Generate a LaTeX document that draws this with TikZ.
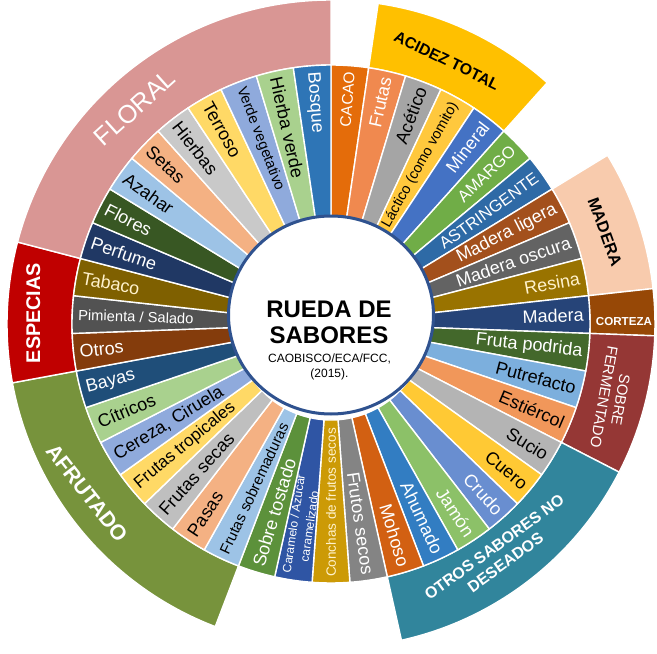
\documentclass[tikz,border=0pt]{standalone}
\usepackage{fontspec}
\setmainfont{Liberation Sans}
\usepackage{xcolor}
\usetikzlibrary{shapes.geometric}
\definecolor{cRing}{HTML}{2F528F}
\definecolor{cCream}{HTML}{FFF2CC}
\definecolor{cFloral}{HTML}{D99694}
\definecolor{cAcidez}{HTML}{FFC000}
\definecolor{cMadera}{HTML}{F8CBAD}
\definecolor{cCorteza}{HTML}{974806}
\definecolor{cFermento}{HTML}{953735}
\definecolor{cOtros}{HTML}{31859C}
\definecolor{cAfrutado}{HTML}{77933C}
\definecolor{cEspecias}{HTML}{C00000}
\newcommand{\fsz}[1]{\fontsize{#1}{#1}\selectfont}
\tikzset{
  wedge/.style={draw=white,line width=1.4pt,line join=round},
  seglbl/.style={inner sep=2pt,align=center},
  grp/.style={inner sep=0pt,align=center,text=#1},
  grp/.default=white,
}

\begin{document}
\begin{tikzpicture}[
    hub/.style={ellipse,draw=cRing,fill=white,line width=3pt,minimum width=205pt,minimum height=198pt},
    ttl/.style={font=\bfseries\fsz{24},anchor=base},
    cite/.style={font=\fsz{12},anchor=base}]
  \useasboundingbox (-331pt,-330pt) rectangle (326pt,324pt);
  \pgfmathsetmacro{\segw}{360/43}
  \foreach \a/\b/\col in {1/5/cAcidez,7/10/cMadera,10/11/cCorteza,11/14/cFermento,14/20/cOtros,24/31/cAfrutado,31/34/cEspecias,34/43/cFloral}{
    \pgfmathsetmacro{\aa}{90-\a*\segw}
    \pgfmathsetmacro{\ab}{90-\b*\segw}
    \draw[wedge,fill=\col] (\aa:259pt) arc[start angle=\aa,end angle=\ab,radius=259pt] -- (\ab:324pt) arc[start angle=\ab,end angle=\aa,radius=324pt] -- cycle;
  }
  \foreach \i/\col/\tc/\f/\txt in {
    1/E46C0A/white/15.5/CACAO,
    2/F0894F/white/18/Frutas,
    3/A5A5A5/black/18/Acético,
    4/FFC83D/black/14.4/Láctico (como vomito),
    5/4472C4/white/18/Mineral,
    6/70AD47/white/16.5/AMARGO,
    7/2E6AA6/white/16.5/ASTRINGENTE,
    8/A3501C/white/18/Madera ligera,
    9/636363/white/18/Madera oscura,
    10/997300/cCream/18/Resina,
    11/264478/white/18/Madera,
    12/43682B/white/18/Fruta podrida,
    13/7CAFDD/black/18/Putrefacto,
    14/F1975A/black/18/Estiércol,
    15/B4B4B4/black/18/Sucio,
    16/FFC934/black/18/Cuero,
    17/698ED0/white/18/Crudo,
    18/8CC168/white/18/Jamón,
    19/327DC2/white/18/Ahumado,
    20/D26012/white/18/Mohoso,
    21/848484/white/18/Frutos secos,
    22/CC9A06/cCream/13.5/Conchas de frutos secos,
    23/2F55A4/white/12/{Caramelo / Azúcar\\[4pt]caramelizado},
    24/5C913B/white/18/Sobre tostado,
    25/9DC3E6/black/15/Frutas sobremaduras,
    26/F4B183/black/18/Pasas,
    27/BFBFBF/black/18/Frutas secas,
    28/FFD966/black/17/Frutas tropicales,
    29/8FAADC/black/18/{Cereza, Ciruela},
    30/A9D18E/black/18/Cítricos,
    31/1F4E79/white/18/Bayas,
    32/843C0C/white/18/Otros,
    33/525252/white/14.7/{Pimienta / Salado},
    34/7F6000/cCream/18/Tabaco,
    35/203864/white/18/Perfume,
    36/385723/white/18/Flores,
    37/9DC3E6/black/18/Azahar,
    38/F4B183/black/18/Setas,
    39/C9C9C9/black/18/Hierbas,
    40/FFD966/black/18/Terroso,
    41/8FAADC/black/14.7/Verde vegetativo,
    42/A9D18E/black/18/Hierba verde,
    43/2E75B6/white/18/Bosque}{
    \pgfmathsetmacro{\aa}{90-(\i-1)*\segw}
    \pgfmathsetmacro{\ab}{90-\i*\segw}
    \pgfmathsetmacro{\am}{90-(\i-0.5)*\segw}
    \pgfmathtruncatemacro{\outw}{\am>-89.5}
    \definecolor{segc}{HTML}{\col}
    \draw[wedge,fill=segc] (\aa:96pt) arc[start angle=\aa,end angle=\ab,radius=96pt] -- (\ab:259pt) arc[start angle=\ab,end angle=\aa,radius=259pt] -- cycle;
    \ifnum\outw=1
      \node[seglbl,text=\tc,font=\fsz{\f},anchor=east,rotate=\am] (s\i) at (\am:255pt) {\txt};
    \else
      \node[seglbl,text=\tc,font=\fsz{\f},anchor=west,rotate=\am+180] (s\i) at (\am:255pt) {\txt};
    \fi
  }
  \node[grp,font=\fsz{25.4},rotate=42] (g-floral) at (132.2:292pt) {FLORAL};
  \node[grp=black,font=\bfseries\fsz{15.8},rotate=-26] (g-acidez) at (66.3:288pt) {ACIDEZ TOTAL};
  \node[grp=black,font=\bfseries\fsz{16.3},rotate=-70] (g-madera) at (18.6:289pt) {MADERA};
  \node[grp,font=\bfseries\fsz{11.6}] (g-corteza) at (0.4:293pt) {CORTEZA};
  \node[grp,font=\fsz{14.9},rotate=-100] (g-fermento) at (-14.8:291pt) {SOBRE\\[2pt]FERMENTADO};
  \node[grp,font=\bfseries\fsz{15.9},rotate=36] (g-otros) at (-53.8:286pt) {OTROS SABORES NO\\[3pt]DESEADOS};
  \node[grp,font=\bfseries\fsz{21.3},rotate=-52] (g-afrutado) at (214.7:297pt) {AFRUTADO};
  \node[grp,font=\bfseries\fsz{19.8},rotate=90] (g-especias) at (177.9:298pt) {ESPECIAS};
  \node[hub] (hub) at (0pt,9pt) {};
  \node[ttl] (t1) at (-2pt,7pt) {RUEDA DE};
  \node[ttl] (t2) at (-2pt,-19pt) {SABORES};
  \node[cite] (c1) at (-1.5pt,-38pt) {CAOBISCO/ECA/FCC,};
  \node[cite] (c2) at (-1.5pt,-53pt) {(2015).};
\end{tikzpicture}
\end{document}
